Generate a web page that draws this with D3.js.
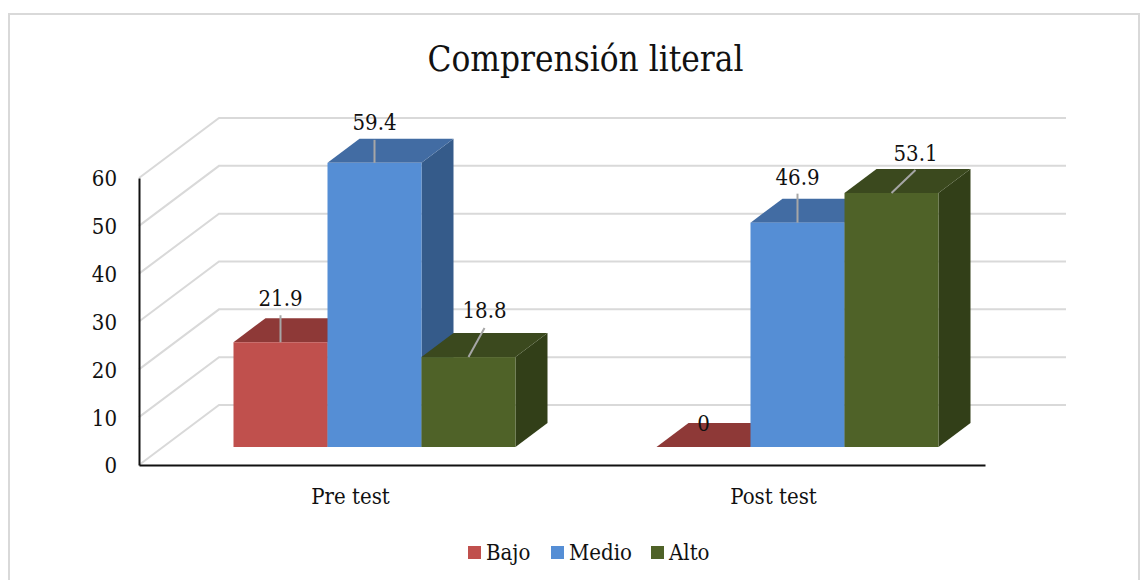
<!DOCTYPE html>
<html>
<head>
<meta charset="utf-8">
<script src="https://cdn.jsdelivr.net/npm/d3@7"></script>
<style>
    html, body { margin: 0; padding: 0; background: #fff; overflow: hidden; }
    text { font-family: "DejaVu Serif Condensed", "DejaVu Serif", serif; fill: #111; }
</style>
</head>
<body>
<svg id="chart"></svg>
<script>
const categories = ["Pre test", "Post test"]
const seriesNames = ["Bajo", "Medio", "Alto"]
const bajo = [21.9, 0]
const medio = [59.4, 46.9]
const alto = [18.8, 53.1]
const yTicks = [0, 10, 20, 30, 40, 50, 60]

const colors = ["#c0504d", "#558ed5", "#4f6228"]
const topColors = ["#8e3937", "#426ca3", "#3b491e"]
const sideColors = ["#6f2c2a", "#355b8a", "#323f18"]

const width = 1148, height = 580
const left = 139, right = 985, baseY = 465, topY = 178
const wall = { dx: 80, dy: -60 }
const front = { dx: 24, dy: -18 }
const depth = { dx: 32, dy: -24 }
const fontFamily = "'DejaVu Serif Condensed', 'DejaVu Serif', serif"
const labelSize = 22

const values = [bajo, medio, alto]
const data = categories.flatMap((c, i) => seriesNames.map((s, j) => ({
    category: c, series: s, idx: j, value: values[j][i]
})))

const x = d3.scaleBand()
    .domain(categories)
    .range([left, right])

const inner = d3.scaleBand()
    .domain(seriesNames)
    .range([0, x.bandwidth()])
    .paddingOuter(0.75)
    .paddingInner(0)

const y = d3.scaleLinear()
    .domain([0, 60])
    .range([baseY, topY])

const svg = d3.select("#chart")
    .attr("width", width)
    .attr("height", height)
    .attr("viewBox", [0, 0, width, height])

// frame
svg.append("path")
    .attr("d", "M9,580V14H1139V580")
    .attr("fill", "none")
    .attr("stroke", "#d9d9d9")
    .attr("stroke-width", 2)

svg.append("text")
    .attr("x", 585.5)
    .attr("y", 71)
    .attr("text-anchor", "middle")
    .attr("font-size", 34.8)
    .text("Comprensión literal")

// gridlines, side wall then back wall
svg.append("g")
    .selectAll("path")
    .data(yTicks)
    .join("path")
    .attr("fill", "none")
    .attr("stroke", "#d9d9d9")
    .attr("stroke-width", 2)
    .attr("d", d => `M${left},${y(d)}L${left + wall.dx},${y(d) + wall.dy}L1066,${y(d) + wall.dy}`)

const yAxis = d3.axisLeft(y).tickValues(yTicks).tickSize(0).tickPadding(22)
svg.append("g")
    .attr("transform", `translate(${left},0)`)
    .call(yAxis)
    .call(g => g.select(".domain").attr("stroke", "#111").attr("stroke-width", 2))
    .call(g => g.selectAll("text").attr("font-size", labelSize).attr("dy", "0.36em").style("font-family", fontFamily))

const xAxis = d3.axisBottom(x).tickSize(0).tickPadding(23)
svg.append("g")
    .attr("transform", `translate(0,${baseY})`)
    .call(xAxis)
    .call(g => g.select(".domain").attr("stroke", "#111").attr("stroke-width", 2))
    .call(g => g.selectAll("text").attr("font-size", labelSize).style("font-family", fontFamily))

const barX = d => x(d.category) + inner(d.series) + front.dx
const barW = inner.bandwidth()
const barBase = baseY + front.dy
const barTop = d => y(d.value) + front.dy

// bars drawn back to front so each front face covers its neighbour's side
const bars = svg.append("g")
    .selectAll("g")
    .data(data)
    .join("g")

bars.append("path")
    .attr("fill", d => sideColors[d.idx])
    .attr("d", d => {
        const r = barX(d) + barW
        return `M${r},${barBase}L${r + depth.dx},${barBase + depth.dy}L${r + depth.dx},${barTop(d) + depth.dy}L${r},${barTop(d)}Z`
    })

bars.append("path")
    .attr("fill", d => topColors[d.idx])
    .attr("d", d => {
        const l = barX(d), t = barTop(d)
        return `M${l},${t}L${l + depth.dx},${t + depth.dy}L${l + barW + depth.dx},${t + depth.dy}L${l + barW},${t}Z`
    })

bars.append("rect")
    .attr("x", barX)
    .attr("y", barTop)
    .attr("width", barW)
    .attr("height", d => barBase - barTop(d))
    .attr("fill", d => colors[d.idx])

// leader lines and value labels, offsets read per label
const labelOffsets = [
    { dx: 0, dy: -36, lean: 0, up: 27 }, { dx: 0, dy: -33, lean: 0, up: 23 }, { dx: 16, dy: -39, lean: 16, up: 29 },
    { dx: 0, dy: -16, lean: null, up: 0 }, { dx: 0, dy: -38, lean: 0, up: 29 }, { dx: 24, dy: -32, lean: 24, up: 23 }
]

data.forEach((d, i) => {
    const o = labelOffsets[i]
    const cx = barX(d) + barW / 2
    if (o.lean !== null) {
        svg.append("line")
            .attr("x1", cx)
            .attr("y1", barTop(d))
            .attr("x2", cx + o.lean)
            .attr("y2", barTop(d) - o.up)
            .attr("stroke", "#a6a6a6")
            .attr("stroke-width", 2)
    }
    svg.append("text")
        .attr("x", cx + o.dx)
        .attr("y", barTop(d) + o.dy)
        .attr("text-anchor", "middle")
        .attr("font-size", labelSize)
        .text(d.value)
})

// legend
const legendX = [468, 551, 651]
const legend = svg.append("g")
    .selectAll("g")
    .data(seriesNames)
    .join("g")
    .attr("transform", (d, i) => `translate(${legendX[i]},546)`)

legend.append("rect")
    .attr("width", 13)
    .attr("height", 13)
    .attr("fill", (d, i) => colors[i])

legend.append("text")
    .attr("x", 18)
    .attr("y", 14)
    .attr("font-size", labelSize)
    .text(d => d)
</script>
</body>
</html>
